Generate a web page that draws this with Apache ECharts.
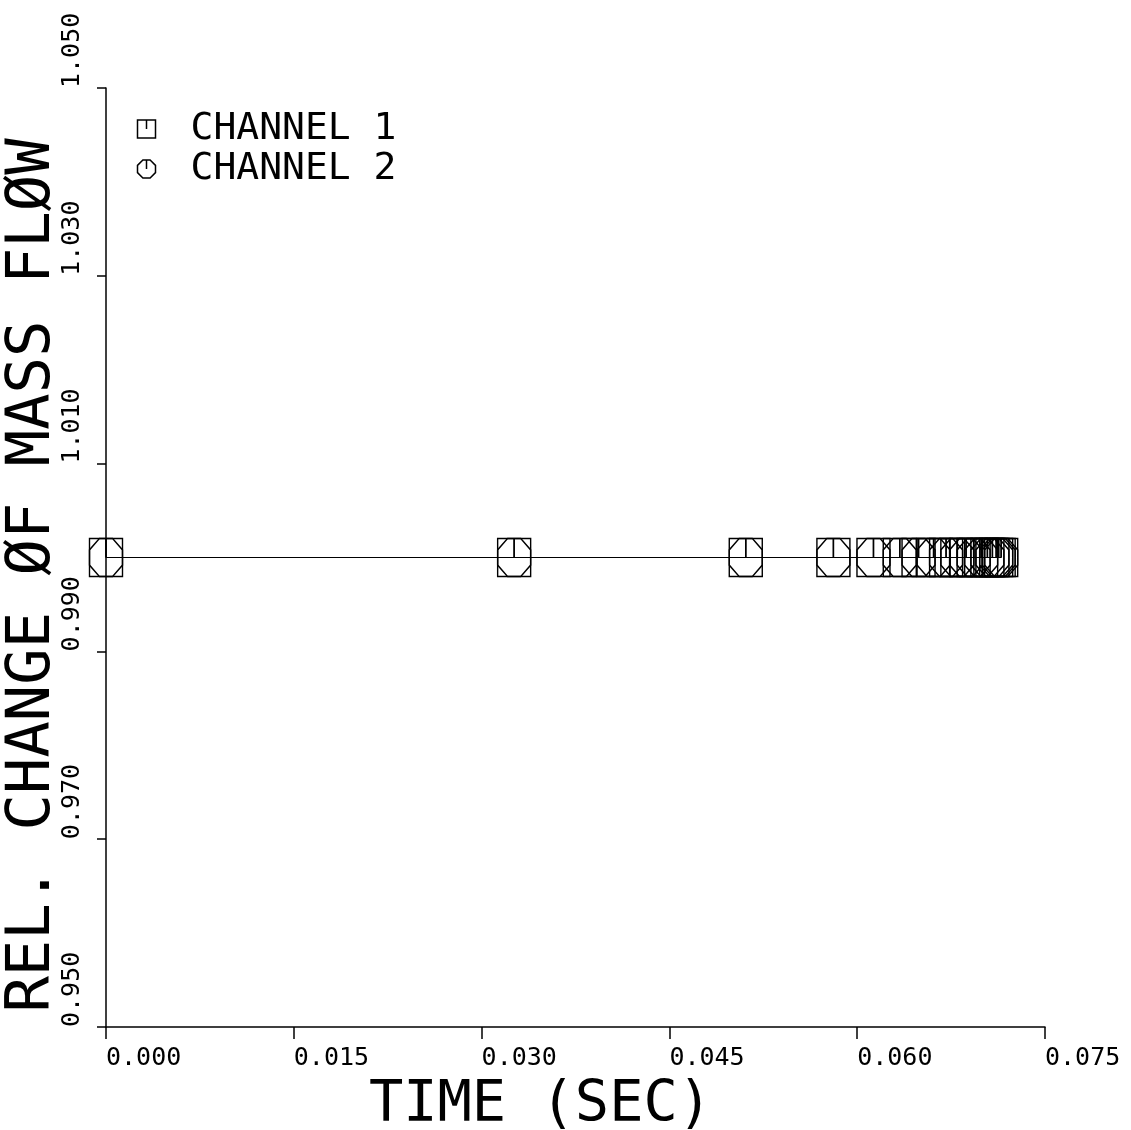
<!DOCTYPE html>
<html>
<head>
<meta charset="utf-8">
<script src="https://cdn.jsdelivr.net/npm/echarts@6/dist/echarts.min.js"></script>
<style>html,body{margin:0;padding:0;background:#fff;}#c{width:1131px;height:1130px;}</style>
</head>
<body>
<div id="c"></div>
<script>
// Data
const timeSec = [0.0000, 0.0326, 0.0511, 0.0581, 0.0613, 0.0634, 0.0649, 0.0661, 0.0671, 0.0680, 0.0687, 0.0693, 0.0699, 0.0704, 0.0708, 0.0711, 0.0713, 0.0715];
const channel1 = [1.000, 1.000, 1.000, 1.000, 1.000, 1.000, 1.000, 1.000, 1.000, 1.000, 1.000, 1.000, 1.000, 1.000, 1.000, 1.000, 1.000, 1.000];
const channel2 = [1.000, 1.000, 1.000, 1.000, 1.000, 1.000, 1.000, 1.000, 1.000, 1.000, 1.000, 1.000, 1.000, 1.000, 1.000, 1.000, 1.000, 1.000];
const seriesNames = ['CHANNEL 1', 'CHANNEL 2'];
const xTitle = 'TIME (SEC)';
const yTitle = 'REL. CHANGE ØF MASS FLØW';

const FONT = '"DejaVu Sans Mono", "Liberation Mono", monospace';
const SQ = 'path://M0 0L10 0L10 10L0 10ZM5 0L5 5';
const OCT = 'path://M3 0L7 0L10 3L10 7L7 10L3 10L0 7L0 3ZM5 0L5 5';

const pts = (ys) => timeSec.map((t, i) => [t, ys[i]]);

const chart = echarts.init(document.getElementById('c'), null, {renderer: 'canvas'});
chart.setOption({
  animation: false,
  backgroundColor: '#fff',
  grid: {left: 106, right: 86, top: 88, bottom: 103, containLabel: false, outerBoundsMode: 'none'},
  legend: {
    orient: 'vertical', left: 130, top: 105, itemGap: 2,
    itemWidth: 18, itemHeight: 21,
    textStyle: {fontFamily: FONT, fontSize: 38, color: '#000', padding: [0, 0, 0, 30]},
    itemStyle: {color: 'none', borderColor: '#000', borderWidth: 1.5},
    data: [
      {name: seriesNames[0], icon: SQ},
      {name: seriesNames[1], icon: OCT}
    ]
  },
  xAxis: {
    type: 'value', min: 0, max: 0.075, interval: 0.015,
    name: xTitle, nameLocation: 'middle', nameGap: 51, nameMoveOverlap: false,
    nameTextStyle: {fontFamily: FONT, fontSize: 57, color: '#000', padding: [0, 70, 0, 0]},
    axisLine: {show: true, onZero: false, lineStyle: {color: '#000', width: 1.5}},
    axisTick: {show: true, inside: false, length: 12, lineStyle: {color: '#000', width: 1.5}},
    axisLabel: {fontFamily: FONT, fontSize: 25, color: '#000', align: 'left', verticalAlign: 'top', margin: 19,
      formatter: v => v.toFixed(3)},
    splitLine: {show: false}
  },
  yAxis: {
    type: 'value', min: 0.95, max: 1.05, interval: 0.02,
    name: yTitle, nameLocation: 'middle', nameGap: 42, nameMoveOverlap: false,
    nameTextStyle: {fontFamily: FONT, fontSize: 60.5, color: '#000', padding: [0, 36, 0, 0]},
    axisLine: {show: true, onZero: false, lineStyle: {color: '#000', width: 1.5}},
    axisTick: {show: true, inside: false, length: 9, lineStyle: {color: '#000', width: 1.5}},
    axisLabel: {fontFamily: FONT, fontSize: 25, color: '#000', rotate: 90, align: 'left', verticalAlign: 'bottom', margin: 21,
      formatter: v => v.toFixed(3)},
    splitLine: {show: false}
  },
  series: [
    {
      name: seriesNames[0], type: 'line', data: pts(channel1),
      symbol: SQ, symbolSize: [33, 38], showAllSymbol: true,
      itemStyle: {color: 'none', borderColor: '#000', borderWidth: 1.5},
      lineStyle: {color: '#000', width: 1.2}
    },
    {
      name: seriesNames[1], type: 'line', data: pts(channel2),
      symbol: OCT, symbolSize: [33, 38], showAllSymbol: true,
      itemStyle: {color: 'none', borderColor: '#000', borderWidth: 1.5},
      lineStyle: {color: '#000', width: 1.2}
    }
  ]
});
</script>
</body>
</html>
